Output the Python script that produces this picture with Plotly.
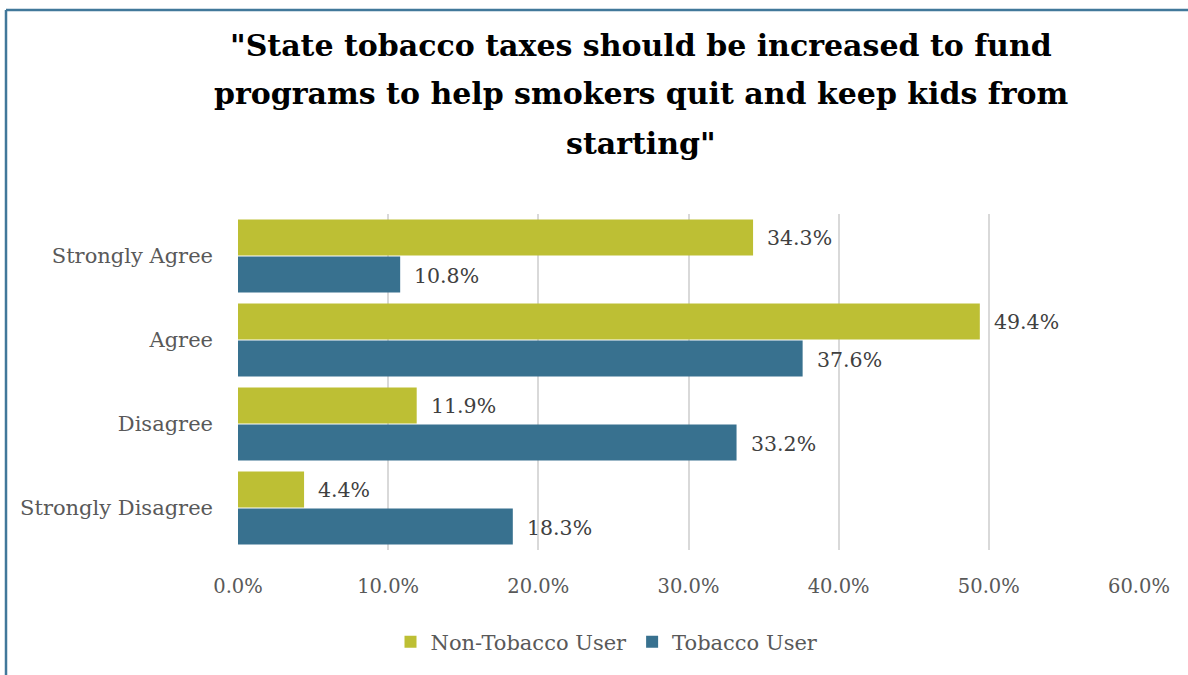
import plotly.graph_objects as go

# Survey responses by tobacco-use status (percent of respondents)
categories = ["Strongly Agree", "Agree", "Disagree", "Strongly Disagree"]
non_tobacco = [34.3, 49.4, 11.9, 4.4]
tobacco = [10.8, 37.6, 33.2, 18.3]
series_names = ["Non-Tobacco User", "Tobacco User"]
x_ticks = [0, 10, 20, 30, 40, 50, 60]
title_lines = [
    '"State tobacco taxes should be increased to fund',
    'programs to help smokers quit and keep kids from',
    'starting"',
]

OLIVE = "#BDBF34"
BLUE = "#38718F"
FONT = "DejaVu Serif"

W, H = 1188, 675
ML, MR, MT, MB = 238, 49, 214, 125
PW, PH = W - ML - MR, H - MT - MB


def px_x(px):
    return (px - ML) / PW


def px_y(py):
    return (H - MB - py) / PH


fig = go.Figure()
for name, vals, col in [(series_names[0], non_tobacco, OLIVE),
                        (series_names[1], tobacco, BLUE)]:
    fig.add_trace(go.Bar(
        name=name, y=categories, x=vals, orientation="h",
        marker=dict(color=col, line=dict(width=0)),
        hoverinfo="skip",
    ))

# value labels to the right of each bar
annotations = []
for vals, shift in [(non_tobacco, 18), (tobacco, -20)]:
    for cat, v in zip(categories, vals):
        annotations.append(dict(
            x=v, y=cat, xref="x", yref="y", text=f"{v:.1f}%",
            showarrow=False, xanchor="left", yanchor="middle",
            xshift=12, yshift=shift,
            font=dict(family=FONT, size=20.5, color="#404040"),
        ))

# chart title
for i, line in enumerate(title_lines):
    annotations.append(dict(
        x=px_x(641), y=px_y(45 + i * 49), xref="paper", yref="paper",
        text=f"<b>{line}</b>", showarrow=False,
        xanchor="center", yanchor="middle",
        font=dict(family=FONT, size=30, color="#000000"),
    ))

shapes = [
    dict(type="line", xref="paper", yref="paper",
         x0=px_x(6), x1=px_x(1200), y0=px_y(10), y1=px_y(10),
         line=dict(color="#41789A", width=2.5)),
    dict(type="line", xref="paper", yref="paper",
         x0=px_x(6), x1=px_x(6), y0=px_y(10), y1=px_y(700),
         line=dict(color="#41789A", width=2.5)),
]

fig.update_layout(
    width=W, height=H,
    margin=dict(l=ML, r=MR, t=MT, b=MB, pad=0),
    paper_bgcolor="white", plot_bgcolor="white",
    barmode="group", bargap=0.12, bargroupgap=0.03,
    font=dict(family=FONT, color="#595959"),
    showlegend=True,
    legend=dict(
        orientation="h", x=px_x(607), y=px_y(642),
        xanchor="center", yanchor="middle",
        font=dict(family=FONT, size=21, color="#595959"),
        itemwidth=30, tracegroupgap=0, bgcolor="rgba(0,0,0,0)",
    ),
    xaxis=dict(
        range=[0, 60], tickvals=x_ticks,
        ticktext=[f"{t:.1f}%" for t in x_ticks],
        showgrid=True, gridcolor="#D9D9D9", gridwidth=2,
        zeroline=False, showline=False, ticks="",
        ticklabelstandoff=22,
        tickfont=dict(family=FONT, size=19.5, color="#595959"),
    ),
    yaxis=dict(
        autorange="reversed", showgrid=False, zeroline=False,
        showline=False, ticks="", ticklabelstandoff=24,
        tickfont=dict(family=FONT, size=21, color="#595959"),
    ),
    annotations=annotations,
    shapes=shapes,
)

fig.write_html("out.html")
